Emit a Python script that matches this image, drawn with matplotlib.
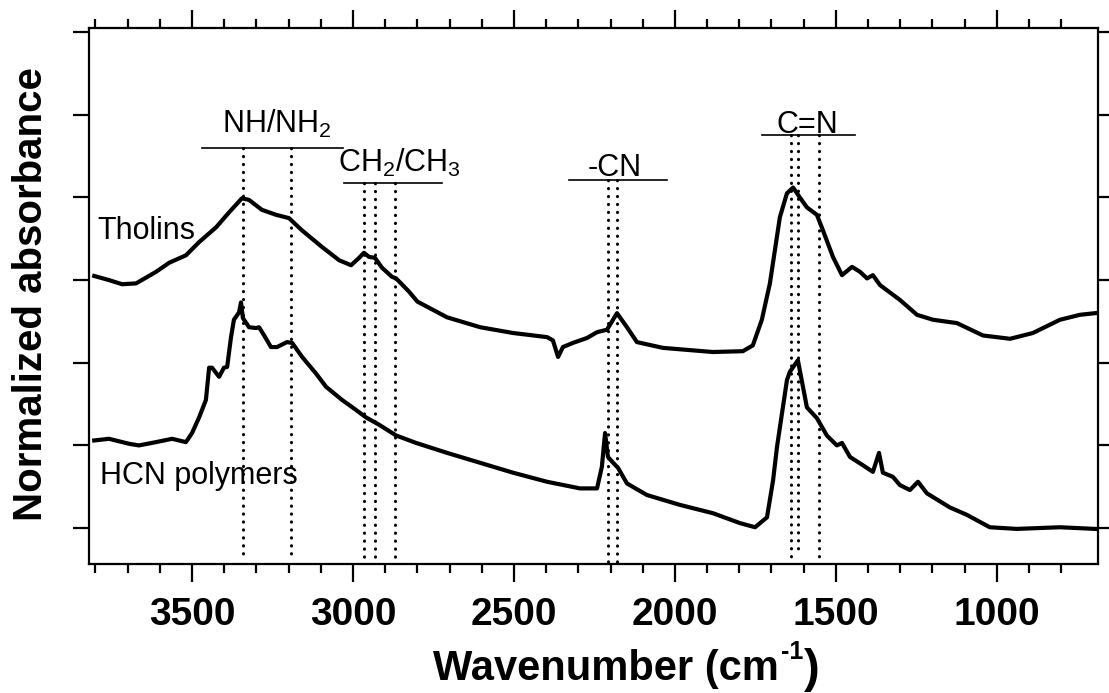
import matplotlib
matplotlib.use('Agg')
import matplotlib.pyplot as plt
import numpy as np

plt.rcParams['font.family'] = ['Liberation Sans', 'DejaVu Sans']
plt.rcParams['mathtext.fontset'] = 'custom'
plt.rcParams['mathtext.rm'] = 'Liberation Sans'
plt.rcParams['mathtext.it'] = 'Liberation Sans:italic'
plt.rcParams['mathtext.bf'] = 'Liberation Sans:bold'

# spectra (wavenumber in cm-1, absorbance in tick units)
tholins_wn = [3804, 3758, 3717, 3674, 3612, 3571, 3519, 3478, 3425, 3385, 3345, 3323,
              3283, 3239, 3199, 3158, 3096, 3043, 3006, 2981, 2966, 2950, 2932, 2910,
              2879, 2866, 2826, 2800, 2708, 2605, 2503, 2397, 2379, 2363, 2348, 2317,
              2273, 2242, 2211, 2180, 2149, 2118, 2037, 1882, 1789, 1758, 1730, 1705,
              1674, 1652, 1633, 1612, 1590, 1559, 1540, 1509, 1481, 1450, 1425, 1403,
              1385, 1363, 1301, 1248, 1198, 1124, 1043, 959, 888, 804, 742, 695]
tholins_abs = [3.05, 3.00, 2.95, 2.96, 3.10, 3.21, 3.30, 3.46, 3.64, 3.82, 3.99, 3.97,
               3.85, 3.79, 3.75, 3.60, 3.40, 3.24, 3.18, 3.27, 3.33, 3.28, 3.27, 3.15,
               3.04, 3.02, 2.86, 2.74, 2.55, 2.43, 2.36, 2.31, 2.27, 2.07, 2.19, 2.24,
               2.30, 2.37, 2.40, 2.60, 2.43, 2.25, 2.18, 2.13, 2.14, 2.21, 2.52, 2.96,
               3.76, 4.05, 4.12, 4.00, 3.88, 3.79, 3.60, 3.28, 3.06, 3.16, 3.10, 3.02,
               3.06, 2.94, 2.76, 2.58, 2.52, 2.48, 2.33, 2.29, 2.36, 2.52, 2.58, 2.60]

hcn_wn = [3804, 3758, 3696, 3665, 3612, 3562, 3519, 3500, 3478, 3457, 3447, 3438,
          3416, 3401, 3391, 3379, 3370, 3354, 3348, 3342, 3323, 3301, 3292, 3276,
          3255, 3236, 3205, 3189, 3158, 3115, 3084, 3034, 2991, 2960, 2919, 2866,
          2804, 2708, 2503, 2397, 2295, 2242, 2227, 2217, 2208, 2192, 2177, 2149,
          2087, 1984, 1882, 1798, 1751, 1714, 1695, 1683, 1652, 1643, 1618, 1590,
          1559, 1528, 1497, 1481, 1456, 1416, 1385, 1366, 1354, 1323, 1301, 1270,
          1245, 1217, 1146, 1093, 1022, 938, 804, 695]
hcn_abs = [1.06, 1.08, 1.02, 1.00, 1.04, 1.08, 1.04, 1.15, 1.34, 1.55, 1.94, 1.94,
           1.83, 1.94, 1.95, 2.31, 2.52, 2.61, 2.73, 2.54, 2.43, 2.42, 2.43, 2.33,
           2.19, 2.19, 2.25, 2.24, 2.07, 1.87, 1.71, 1.55, 1.43, 1.34, 1.25, 1.12,
           1.03, 0.91, 0.67, 0.56, 0.48, 0.48, 0.74, 1.15, 0.86, 0.79, 0.73, 0.54,
           0.40, 0.28, 0.18, 0.06, 0.01, 0.13, 0.58, 0.98, 1.79, 1.89, 2.03, 1.46,
           1.33, 1.12, 1.00, 1.03, 0.86, 0.76, 0.68, 0.91, 0.67, 0.62, 0.52, 0.46,
           0.56, 0.42, 0.25, 0.16, 0.01, -0.01, 0.01, -0.01]

# band assignments
band_names = ['NH/NH$_2$', 'CH$_2$/CH$_3$', '-CN', 'C=N']
band_text_x = [3407, 3047, 2270, 1683]
band_text_y = [4.78, 4.31, 4.26, 4.78]
band_bar_start = [3469, 3028, 2329, 1730]
band_bar_end = [3031, 2724, 2025, 1441]
band_bar_y = [4.60, 4.17, 4.21, 4.75]
band_lines = [[3342, 3193], [2966, 2932, 2869], [2208, 2180], [1640, 1618, 1553]]
band_line_bottom = [[-0.33, -0.33], [-0.36, -0.38, -0.36], [-0.42, -0.42], [-0.41, -0.33, -0.41]]

fig = plt.figure(figsize=(11.09, 6.93), dpi=100)
ax = fig.add_axes([0.0803, 0.1861, 0.9097, 0.7735])

ax.plot(tholins_wn, tholins_abs, color='black', lw=3, solid_joinstyle='round')
ax.plot(hcn_wn, hcn_abs, color='black', lw=3, solid_joinstyle='round')

for name, tx, ty, x0, x1, by, xs, bots in zip(band_names, band_text_x, band_text_y,
                                             band_bar_start, band_bar_end, band_bar_y,
                                             band_lines, band_line_bottom):
    ax.plot([x0, x1], [by, by], color='black', lw=1.2)
    for xv, yb in zip(xs, bots):
        ax.plot([xv, xv], [by, yb], color='black', lw=2.2,
                linestyle=(0, (0.1, 2.5)), dash_capstyle='round', clip_on=False)
    ax.text(tx, ty, name, fontsize=22, ha='left', va='baseline')

ax.text(3795, 3.50, 'Tholins', fontsize=22, ha='left', va='baseline')
ax.text(3786, 0.53, 'HCN polymers', fontsize=22, ha='left', va='baseline')

ax.set_xlim(3820, 686)
ax.set_ylim(-0.435, 6.05)
ax.set_xticks([3500, 3000, 2500, 2000, 1500, 1000])
ax.set_xticks(np.arange(800, 3900, 100), minor=True)
ax.set_yticks(np.arange(0, 7, 1))
ax.set_yticklabels([])

ax.tick_params(which='both', direction='out', top=True, right=True, width=1.6)
ax.tick_params(which='major', length=13, pad=11, labelsize=28)
ax.tick_params(which='minor', length=6.5)
ax.tick_params(axis='y', length=11.5)
for lab in ax.get_xticklabels():
    lab.set_fontweight('bold')
for sp in ax.spines.values():
    sp.set_linewidth(1.6)

# x label built from pieces so the superscript stays small and tight
renderer = fig.canvas.get_renderer()
W, H = fig.get_size_inches() * fig.dpi
t1 = fig.text(433 / W, 1 - 680 / H, 'Wavenumber (cm', fontsize=30,
              fontweight='bold', ha='left', va='baseline')
x_end = t1.get_window_extent(renderer).x1
t2 = fig.text((x_end + 2) / W, 1 - 659 / H, '-1', fontsize=18,
              fontweight='bold', ha='left', va='baseline')
x_end = t2.get_window_extent(renderer).x1
fig.text((x_end + 1) / W, 1 - 682 / H, ')', fontsize=34,
         fontweight='bold', ha='left', va='baseline')

fig.text(31 / W, 1 - 294 / H, 'Normalized absorbance', fontsize=29,
         fontweight='bold', ha='center', va='center', rotation=90)

fig.savefig('out.png', dpi=100)
